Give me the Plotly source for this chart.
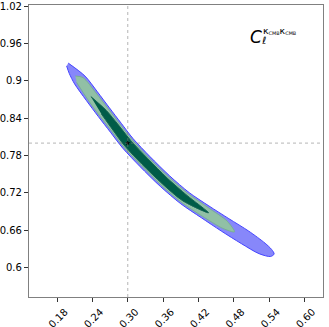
import plotly.graph_objects as go

# outer contour (blue)
blue_x = [0.1990, 0.2274, 0.2485, 0.2689, 0.2890, 0.3090, 0.3376, 0.3711, 0.4044, 0.4377,
          0.4716, 0.5054, 0.5331, 0.5441, 0.5484, 0.5424, 0.5229, 0.4928, 0.4586, 0.4245,
          0.3898, 0.3551, 0.3206, 0.2914, 0.2706, 0.2500, 0.2295, 0.2098, 0.2007, 0.1962]
blue_y = [0.9286, 0.9078, 0.8824, 0.8567, 0.8318, 0.8072, 0.7784, 0.7473, 0.7203, 0.6990,
          0.6785, 0.6584, 0.6390, 0.6290, 0.6217, 0.6177, 0.6222, 0.6384, 0.6587, 0.6802,
          0.7026, 0.7305, 0.7625, 0.7920, 0.8175, 0.8427, 0.8688, 0.8951, 0.9120, 0.9241]

# middle contour (light green)
green_x = [0.2109, 0.2240, 0.2461, 0.2669, 0.2869, 0.3072, 0.3357, 0.3694, 0.4029, 0.4360,
           0.4688, 0.4812, 0.4614, 0.4262, 0.3913, 0.3568, 0.3225, 0.2932, 0.2727, 0.2519,
           0.2319, 0.2132]
green_y = [0.9079, 0.9053, 0.8807, 0.8552, 0.8303, 0.8056, 0.7766, 0.7456, 0.7184, 0.6966,
           0.6744, 0.6573, 0.6628, 0.6827, 0.7045, 0.7323, 0.7643, 0.7936, 0.8190, 0.8442,
           0.8704, 0.8976]

# inner contour (dark green)
dark_x = [0.2373, 0.2635, 0.2847, 0.3053, 0.3340, 0.3673, 0.4007, 0.4370, 0.3935, 0.3588,
          0.3242, 0.2951, 0.2749, 0.2553]
dark_y = [0.8748, 0.8526, 0.8285, 0.8039, 0.7750, 0.7435, 0.7158, 0.6880, 0.7071, 0.7344,
          0.7659, 0.7952, 0.8208, 0.8468]

# fiducial values
fid_x = 0.30
fid_y = 0.80

x_ticks = [0.18, 0.24, 0.30, 0.36, 0.42, 0.48, 0.54, 0.60]
x_labels = ['0.18', '0.24', '0.30', '0.36', '0.42', '0.48', '0.54', '0.60']
y_ticks = [1.02, 0.96, 0.90, 0.84, 0.78, 0.72, 0.66, 0.60]
y_labels = ['1.02', '0.96', '0.9', '0.84', '0.78', '0.72', '0.66', '0.6']

font = 'DejaVu Sans'

fig = go.Figure()
fig.add_trace(go.Scatter(x=blue_x, y=blue_y, fill='toself', mode='lines',
                         line=dict(color='rgb(70,70,255)', width=1, shape='spline', smoothing=0.8),
                         fillcolor='rgb(135,135,250)', hoverinfo='skip'))
fig.add_trace(go.Scatter(x=green_x, y=green_y, fill='toself', mode='lines',
                         line=dict(color='rgb(120,175,150)', width=1, shape='spline', smoothing=0.8),
                         fillcolor='rgb(145,192,165)', hoverinfo='skip'))
fig.add_trace(go.Scatter(x=dark_x, y=dark_y, fill='toself', mode='lines',
                         line=dict(color='rgb(20,100,85)', width=1, shape='spline', smoothing=0.8),
                         fillcolor='rgb(0,92,72)', hoverinfo='skip'))

# crosshair at fiducial
fig.add_vline(x=fid_x, line=dict(color='rgba(120,120,120,0.7)', width=0.8, dash='dot'))
fig.add_hline(y=fid_y, line=dict(color='rgba(120,120,120,0.7)', width=0.8, dash='dot'))
fig.add_trace(go.Scatter(x=[fid_x], y=[fid_y], mode='markers',
                         marker=dict(color='black', size=4, symbol='star'), hoverinfo='skip'))

# label C_l^{kk}
fig.add_annotation(x=0.772, y=0.890, xref='paper', yref='paper', text='<i>C</i>',
                   xanchor='center', yanchor='middle', showarrow=False,
                   font=dict(family=font, size=17, color='black'))
fig.add_annotation(x=0.798, y=0.880, xref='paper', yref='paper', text='<i>ℓ</i>',
                   xanchor='center', yanchor='middle', showarrow=False,
                   font=dict(family=font, size=10, color='black'))
kappa = '<span style="font-size:9.5px;color:black">κ</span>'
fig.add_annotation(x=0.789, y=0.911, xref='paper', yref='paper',
                   text=kappa + '<sub>CMB</sub>' + kappa + '<sub>CMB</sub>',
                   xanchor='left', yanchor='middle', showarrow=False,
                   font=dict(family=font, size=7, color='black'))

axis_common = dict(showgrid=False, zeroline=False, showline=True, mirror=True,
                   linecolor='#808080', linewidth=1.2, ticks='outside', ticklen=4,
                   tickcolor='#333333', automargin=False, ticklabeloverflow='allow',
                   tickfont=dict(family=font, size=10, color='black'))

fig.update_layout(
    width=329, height=327,
    margin=dict(l=29, r=6, t=5, b=30),
    plot_bgcolor='white', paper_bgcolor='white',
    showlegend=False, hovermode=False,
    xaxis=dict(range=[0.1324, 0.6313], tickvals=x_ticks, ticktext=x_labels,
               tickangle=-45, ticklabelshift=8, ticklabelstandoff=0, **axis_common),
    yaxis=dict(range=[0.5526, 1.022], tickvals=y_ticks, ticktext=y_labels, **axis_common),
)

# drop the default 8px body margin so the figure sits at the window corner
fig.write_html('out.html', config={'displayModeBar': False},
               post_script="document.body.style.margin='0';")
